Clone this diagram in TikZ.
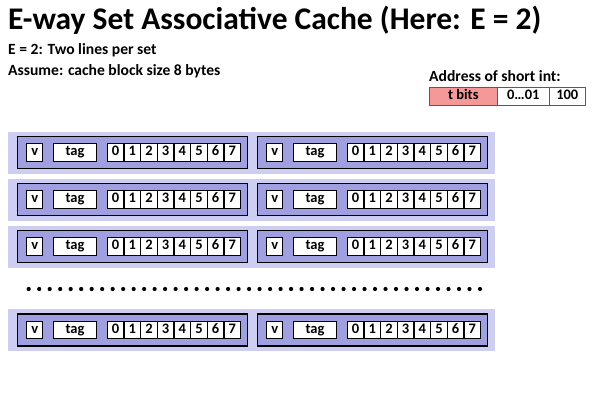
\documentclass[tikz,border=0pt]{standalone}
\usepackage{fontspec}
\setmainfont{Carlito}
\usepackage{xcolor}
\usepackage{tikz}
\usetikzlibrary{positioning}

\definecolor{setcol}{RGB}{206,206,242}
\definecolor{linecol}{RGB}{160,160,224}
\definecolor{tagcol}{RGB}{245,152,152}
\definecolor{addrcol}{RGB}{90,90,90}

\begin{document}
\begin{tikzpicture}[x=1pt, y=-1pt,
  setband/.style={fill=setcol, minimum width=487pt, minimum height=42pt, inner sep=0pt},
  linebox/.style={draw=black, line width=1.6pt, fill=linecol, minimum width=230pt, minimum height=32pt, inner sep=0pt},
  field/.style={draw=black, line width=1.2pt, fill=white, minimum height=17.5pt, inner sep=0pt,
    text height=9.5pt, text depth=3pt, font=\fontsize{14.5}{16}\selectfont\bfseries},
  addrfield/.style={draw=addrcol, line width=0.8pt, fill=white, minimum height=18pt, inner sep=0pt,
    text height=9.5pt, text depth=3pt, font=\fontsize{14.5}{16}\selectfont\bfseries},
  note/.style={anchor=base west, inner sep=0pt, font=\fontsize{15.6}{18}\selectfont\bfseries}]
  \useasboundingbox (0,0) rectangle (600,418);

  % Title and notes
  \node[anchor=base west, inner sep=0pt, font=\fontsize{31.5}{36}\selectfont\bfseries] (title) at (8,29)
    {E-way Set Associative Cache (Here: E = 2)};
  \node[note] (note1) at (8,54) {E = 2: Two lines per set};
  \node[note] (note2) at (8,75) {Assume: cache block size 8 bytes};

  % Address of short int
  \node[note] (addrlabel) at (429,81.5) {Address of short int:};
  \node[addrfield, fill=tagcol, minimum width=68.7pt] (tbits) at (463.3,96) {t bits};
  \node[addrfield, minimum width=51.3pt] (setidx) at (523.3,96) {0…01};
  \node[addrfield, minimum width=36.7pt] (offs) at (567.3,96) {100};

  % Sets with two lines each
  \foreach \r/\yy in {1/152.5, 2/199.5, 3/246.5, 4/330} {
    \node[setband] (set\r) at (251.5,\yy) {};
    \foreach \l/\xx in {1/0, 2/240} {
      \node[linebox] (line\r\l) at (132.5+\xx,\yy) {};
      \node[field, minimum width=16pt] (v\r\l) at (34.7+\xx,\yy) {v};
      \node[field, minimum width=43.4pt] (tag\r\l) at (75+\xx,\yy) {tag};
      \foreach \k in {0,...,7}
        \node[field, minimum width=16.67pt] (b\r\l\k) at (115.6+\xx+16.67*\k,\yy) {\k};
    }
  }

  % Dots for the sets left out
  \foreach \d in {0,...,43}
    \fill (28.7+10.495*\d,289) circle (2.1pt);
\end{tikzpicture}
\end{document}
